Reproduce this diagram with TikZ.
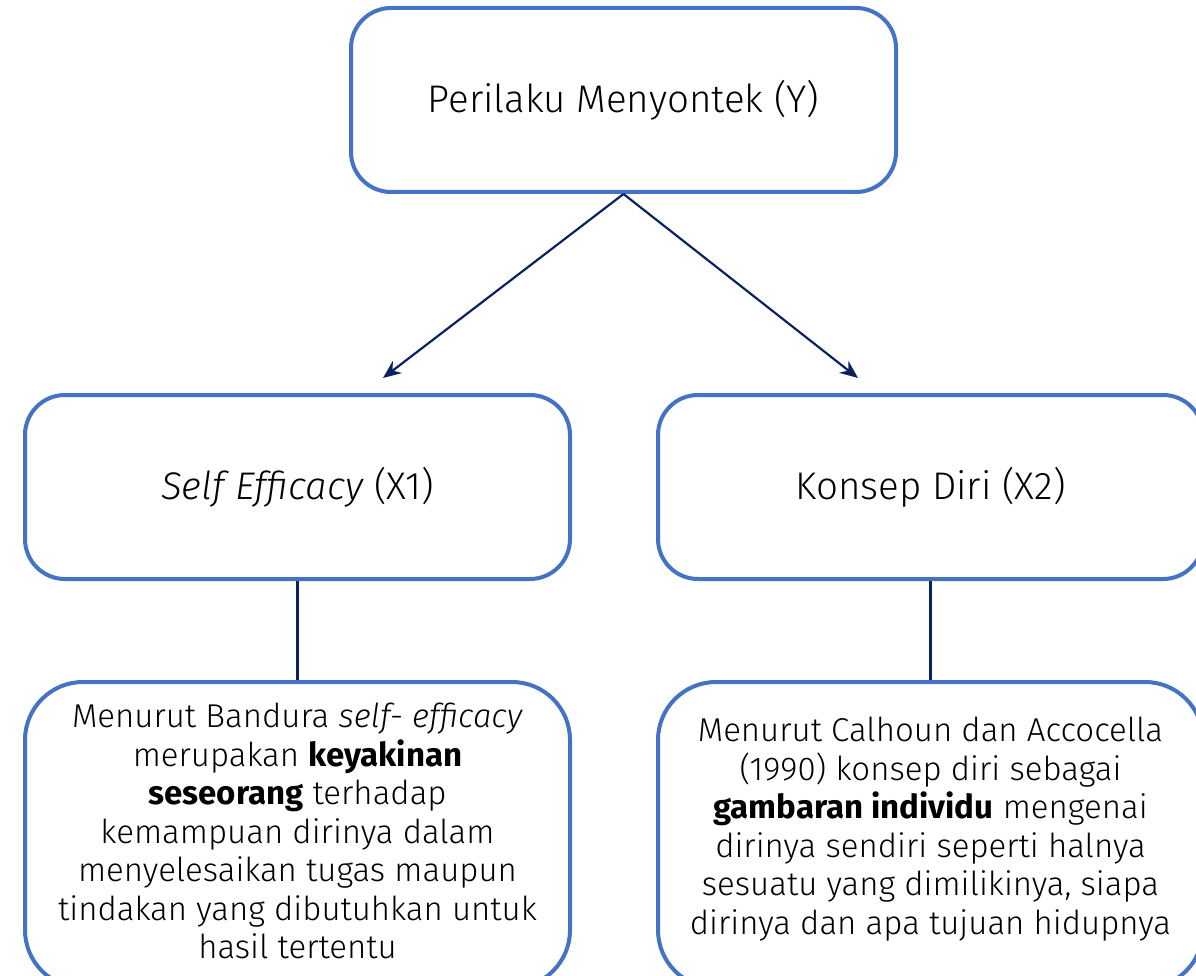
\documentclass[tikz,border=0pt]{standalone}
\usepackage{fontspec}
\setmainfont{Fira Sans Light}[BoldFont=Fira Sans Bold, ItalicFont=Fira Sans Light Italic]
\usetikzlibrary{arrows.meta}
\definecolor{boxblue}{HTML}{4472C4}
\definecolor{navy}{HTML}{0B2260}
\tikzset{
  box/.style={draw=boxblue, line width=4pt, fill=white, rounded corners=40pt, inner sep=0pt, align=center},
  bigbox/.style={box, rounded corners=58pt},
  conn/.style={draw=navy, line width=2.2pt},
  arr/.style={conn, -{Stealth[length=18pt,width=15pt]}},
  headfont/.style={font=\fontsize{38.5}{44}\selectfont},
  bodyfont/.style={font=\fontsize{33}{38.5}\selectfont},
}
\begin{document}
\begin{tikzpicture}[x=1pt,y=-1pt]
\useasboundingbox (0,0) rectangle (1196,976);
\begin{scope}
\clip (0,0) rectangle (1196,976);
\node[box, minimum width=545pt, minimum height=184pt, headfont] (y) at (623.5,100) {Perilaku Menyontek (Y)};
\node[box, minimum width=545pt, minimum height=184pt, headfont] (x1) at (297.5,487) {\textit{Self Efficacy} (X1)};
\node[box, minimum width=545pt, minimum height=184pt, headfont] (x2) at (930.5,487) {Konsep Diri (X2)};
\node[bigbox, minimum width=545pt, minimum height=306pt, bodyfont] (d1) at (297.5,835) {};
\node[bodyfont, align=center, inner sep=0pt] (t1) at (297.5,831) {Menurut Bandura \textit{self- efficacy}\\merupakan \textbf{keyakinan}\\\textbf{seseorang} terhadap\\kemampuan dirinya dalam\\menyelesaikan tugas maupun\\tindakan yang dibutuhkan untuk\\hasil tertentu};
\node[bigbox, minimum width=545pt, minimum height=306pt, bodyfont] (d2) at (930.5,835) {};
\node[bodyfont, align=center, inner sep=0pt] (t2) at (930.5,829) {Menurut Calhoun dan Accocella\\(1990) konsep diri sebagai\\\textbf{gambaran individu} mengenai\\dirinya sendiri seperti halnya\\sesuatu yang dimilikinya, siapa\\dirinya dan apa tujuan hidupnya};
\coordinate (a1) at (383,378);
\coordinate (a2) at (858,378);
\draw[arr] (y.south) -- (a1);
\draw[arr] (y.south) -- (a2);
\draw[conn] (x1.south) -- (d1.north);
\draw[conn] (x2.south) -- (d2.north);
\end{scope}
\end{tikzpicture}
\end{document}
